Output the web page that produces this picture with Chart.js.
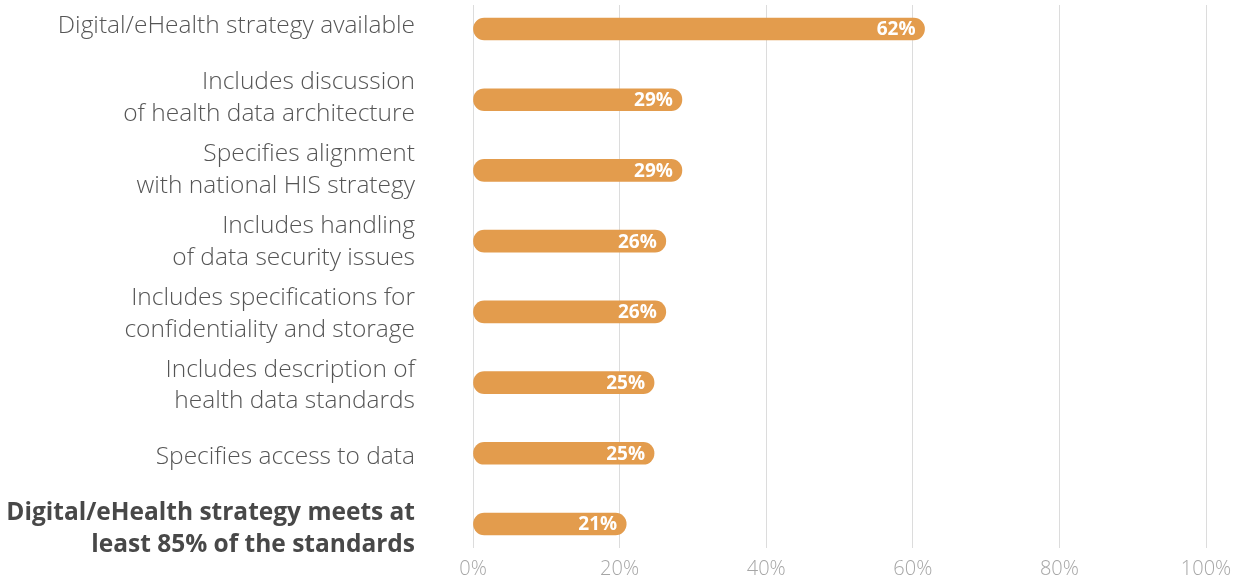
<!DOCTYPE html>
<html>
<head>
<meta charset="utf-8">
<script src="https://cdn.jsdelivr.net/npm/chart.js@4"></script>
<style>
  html, body { margin: 0; padding: 0; background: #fff; }
  #wrap { width: 1244px; height: 580px; }
</style>
</head>
<body>
<div id="wrap"><canvas id="strategyChart" width="1244" height="580"></canvas></div>
<script>
// Chart data
const categories = [
    'Digital/eHealth strategy available',
    ['Includes discussion', 'of health data architecture'],
    ['Specifies alignment', 'with national HIS strategy'],
    ['Includes handling', 'of data security issues'],
    ['Includes specifications for', 'confidentiality and storage'],
    ['Includes description of', 'health data standards'],
    'Specifies access to data',
    ['Digital/eHealth strategy meets at', 'least 85% of the standards']
];
const shares = [61.6, 28.5, 28.5, 26.3, 26.3, 24.7, 24.7, 20.9];
const xTicks = [0, 20, 40, 60, 80, 100];

const barColor = '#E39C4D';
const gridColor = '#dcdcdc';

// Draw white value labels at the right end of each bar
const valueLabels = {
    id: 'valueLabels',
    afterDatasetsDraw(chart) {
        const ctx = chart.ctx;
        const meta = chart.getDatasetMeta(0);
        ctx.save();
        ctx.fillStyle = '#ffffff';
        ctx.font = 'bold 19px "Open Sans"';
        ctx.textAlign = 'right';
        ctx.textBaseline = 'middle';
        meta.data.forEach((bar, i) => {
            ctx.fillText(Math.round(shares[i]) + '%', bar.x - 9, bar.y + 1);
        });
        ctx.restore();
    }
};

const ctx = document.getElementById('strategyChart').getContext('2d');
new Chart(ctx, {
    type: 'bar',
    data: {
        labels: categories,
        datasets: [{
            data: shares,
            backgroundColor: barColor,
            barThickness: 22,
            borderRadius: 11,
            borderSkipped: false,
            clip: false
        }]
    },
    options: {
        indexAxis: 'y',
        responsive: false,
        animation: false,
        layout: { padding: { top: 5, right: 38, bottom: 0, left: 0 } },
        plugins: {
            legend: { display: false },
            tooltip: { enabled: false }
        },
        scales: {
            x: {
                min: 0,
                max: 100,
                afterBuildTicks: (scale) => { scale.ticks = xTicks.map(v => ({ value: v })); },
                afterFit: (scale) => { scale.height = 56; },
                grid: { color: gridColor, tickLength: 24, tickColor: gridColor },
                border: { display: false },
                ticks: {
                    padding: 9,
                    color: '#a6a6a6',
                    font: { family: 'Open Sans', weight: 300, size: 20 },
                    callback: (v) => v + '%'
                }
            },
            xTop: {
                type: 'linear',
                position: 'top',
                axis: 'x',
                min: 0,
                max: 100,
                afterBuildTicks: (scale) => { scale.ticks = xTicks.map(v => ({ value: v })); },
                grid: { color: gridColor, tickLength: 24, tickColor: gridColor, drawOnChartArea: false },
                border: { display: false },
                ticks: { display: false }
            },
            y: {
                offset: false,
                afterFit: (scale) => {
                    scale.width = 473;
                    scale.paddingTop = 0;
                    scale.paddingBottom = 0;
                },
                // category labels sit on a slightly wider pitch than the bars
                afterUpdate: (scale) => {
                    const barPixel = (i) => scale.getPixelForValue(i);
                    scale.getPixelForTick = (i) => {
                        const p = barPixel(i);
                        return p + (p - scale.top) * 0.017 - 3;
                    };
                },
                grid: { display: false },
                border: { display: false },
                ticks: {
                    padding: 50,
                    color: (c) => c.index === 7 ? '#484848' : '#555555',
                    font: (c) => c.index === 7
                        ? { family: 'Open Sans', weight: 'bold', size: 24.5, lineHeight: 1.3 }
                        : { family: 'Open Sans', weight: 300, size: 24.5, lineHeight: 1.3 }
                }
            }
        }
    },
    plugins: [valueLabels]
});
</script>
</body>
</html>
